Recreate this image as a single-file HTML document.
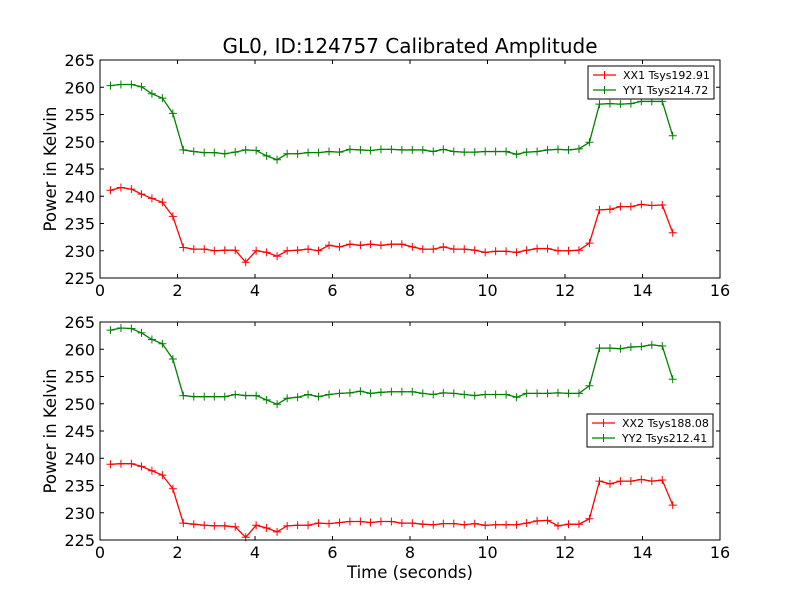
<!DOCTYPE html>
<html><head><meta charset="utf-8"><style>
body{margin:0;background:#fff;}
svg text{font-family:"DejaVu Sans","Liberation Sans",sans-serif;}
</style></head><body>
<svg id="chart" width="800" height="600" xmlns="http://www.w3.org/2000/svg">
<rect width="800" height="600" fill="#fff"/>
<text x="410" y="53" font-size="20" text-anchor="middle">GL0, ID:124757 Calibrated Amplitude</text>
</svg>
<script>
const times=[0.27,0.54,0.81,1.07,1.34,1.61,1.88,2.15,2.42,2.69,2.95,3.22,3.49,3.76,4.03,4.30,4.57,4.83,5.10,5.37,5.64,5.91,6.18,6.45,6.72,6.98,7.25,7.52,7.79,8.06,8.33,8.60,8.86,9.13,9.40,9.67,9.94,10.21,10.48,10.75,11.01,11.28,11.55,11.82,12.09,12.36,12.63,12.89,13.16,13.43,13.70,13.97,14.24,14.51,14.78];
const xx1=[241.1,241.6,241.3,240.4,239.6,238.9,236.3,230.6,230.3,230.3,230.0,230.1,230.1,227.9,230.0,229.7,229.0,230.0,230.1,230.3,230.0,231.0,230.7,231.2,231.0,231.2,231.0,231.2,231.2,230.7,230.3,230.3,230.7,230.3,230.3,230.1,229.7,229.9,229.9,229.7,230.1,230.4,230.4,230.0,230.0,230.1,231.4,237.5,237.6,238.1,238.1,238.5,238.3,238.4,233.3];
const yy1=[260.3,260.5,260.5,260.1,258.8,258.0,255.2,248.5,248.2,248.0,248.0,247.8,248.1,248.5,248.4,247.4,246.7,247.8,247.8,248.0,248.0,248.2,248.1,248.6,248.5,248.4,248.6,248.6,248.5,248.5,248.5,248.2,248.6,248.2,248.1,248.1,248.2,248.2,248.2,247.7,248.1,248.2,248.5,248.6,248.5,248.7,249.9,256.9,257.0,256.9,257.0,257.4,257.4,257.4,251.1];
const xx2=[238.9,239.0,239.0,238.5,237.7,236.9,234.4,228.1,227.9,227.7,227.6,227.6,227.4,225.5,227.7,227.2,226.5,227.6,227.7,227.7,228.1,228.0,228.2,228.4,228.4,228.2,228.4,228.4,228.1,228.1,227.9,227.8,228.0,228.0,227.8,228.0,227.7,227.8,227.8,227.8,228.1,228.5,228.6,227.6,227.9,227.9,228.9,235.8,235.3,235.8,235.8,236.1,235.8,236.0,231.4];
const yy2=[263.5,263.9,263.8,263.0,261.8,261.0,258.2,251.5,251.3,251.3,251.3,251.3,251.7,251.5,251.5,250.7,249.9,251.0,251.2,251.7,251.3,251.7,251.9,252.0,252.3,251.9,252.1,252.2,252.2,252.2,251.9,251.7,252.0,251.9,251.7,251.5,251.7,251.7,251.7,251.2,251.9,251.9,251.9,252.0,251.9,251.9,253.3,260.2,260.2,260.1,260.4,260.5,260.8,260.6,254.5];
const xTicks=[0,2,4,6,8,10,12,14,16];
const yTicks=[225,230,235,240,245,250,255,260,265];
const legend1=["XX1 Tsys192.91","YY1 Tsys214.72"];
const legend2=["XX2 Tsys188.08","YY2 Tsys212.41"];

const svg=document.getElementById('chart');
const NS='http://www.w3.org/2000/svg';
function mk(tag,attrs,parent){const e=document.createElementNS(NS,tag);for(const k in attrs)e.setAttribute(k,attrs[k]);(parent||svg).appendChild(e);return e;}
const L=100,R=720;
function xs(v){return L+(v-0)/(16-0)*(R-L);}
function panel(top,bottom,name,red,green,labels,lx,ly){
  const ys=v=>bottom-(v-225)/(265-225)*(bottom-top);
  const g=mk('g',{});
  
  
  xTicks.forEach(t=>{
    const x=xs(t);
    mk('line',{x1:x,x2:x,y1:bottom,y2:bottom-4,stroke:'#000'},g);
    mk('line',{x1:x,x2:x,y1:top,y2:top+4,stroke:'#000'},g);
    const tx=mk('text',{x:x,y:bottom+18,'font-size':16,'text-anchor':'middle'},g);
    tx.textContent=t;
    
    
  });
  yTicks.forEach(t=>{
    const y=ys(t);
    mk('line',{x1:L,x2:L+4,y1:y,y2:y,stroke:'#000'},g);
    mk('line',{x1:R,x2:R-4,y1:y,y2:y,stroke:'#000'},g);
    const tx=mk('text',{x:L-5,y:y+6,'font-size':16,'text-anchor':'end'},g);
    tx.textContent=t;
    
    
  });
  const yl=mk('text',{x:0,y:0,'font-size':16.5,'text-anchor':'middle',transform:`translate(56,${(top+bottom)/2}) rotate(-90)`},g);
  yl.textContent='Power in Kelvin';
  
  
  [[red,'#ff0000','xx-series'],[green,'#008000','yy-series']].forEach(([arr,c,n])=>{
    const pts=arr.map((v,i)=>xs(times[i])+','+ys(v)).join(' ');
    const pl=mk('polyline',{points:pts,fill:'none',stroke:c,'stroke-width':1.3},g);
    
    
    arr.forEach((v,i)=>{
      const x=xs(times[i]),y=ys(v);
      const m=mk('path',{d:`M${x-4},${y}H${x+4}M${x},${y-4}V${y+4}`,stroke:c,'stroke-width':1},g);
      
      
    });
  });
  mk('rect',{x:L,y:top,width:R-L,height:bottom-top,fill:'none',stroke:'#000','stroke-width':1},g);
  const lg=mk('g',{},g);
  
  
  mk('rect',{x:lx,y:ly,width:126,height:33,fill:'#fff',stroke:'#000','stroke-width':1},lg);
  labels.forEach((lab,i)=>{
    const c=i?'#008000':'#ff0000';
    const yy=ly+9+i*15;
    mk('line',{x1:lx+5,x2:lx+28,y1:yy,y2:yy,stroke:c,'stroke-width':1.3},lg);
    mk('path',{d:`M${lx+12.5},${yy}H${lx+20.5}M${lx+16.5},${yy-4}V${yy+4}`,stroke:c},lg);
    const t=mk('text',{x:lx+35,y:yy+4,'font-size':11},lg);
    t.textContent=lab;
    
    
  });
}
panel(60,278,'top-panel',xx1,yy1,legend1,588,66);
panel(322,540,'bottom-panel',xx2,yy2,legend2,587,414);
const xl=mk('text',{x:410,y:578,'font-size':16.5,'text-anchor':'middle'});
xl.textContent='Time (seconds)';


</script>
</body></html>
